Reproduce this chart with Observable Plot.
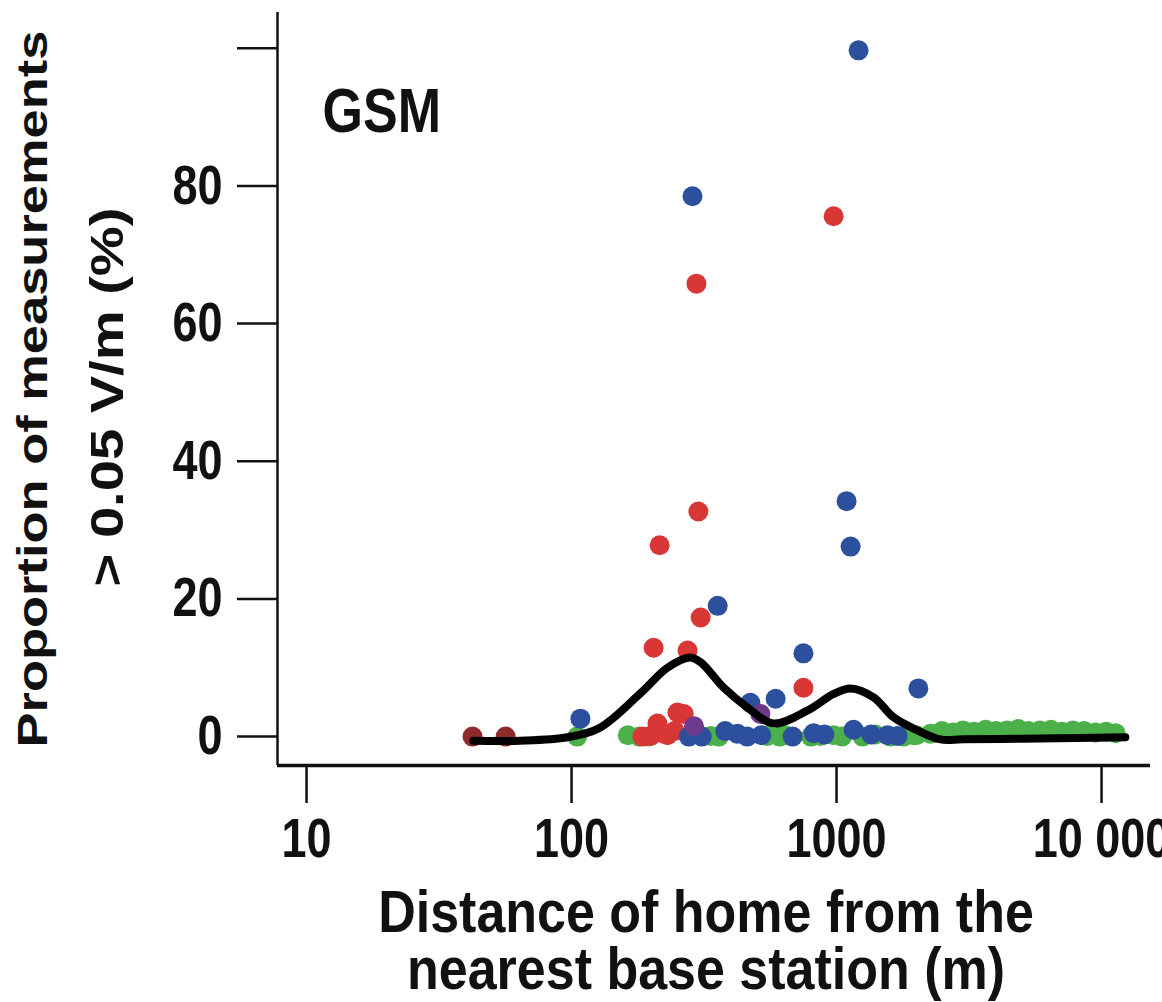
<!DOCTYPE html>
<html>
<head>
<meta charset="utf-8">
<script src="https://cdn.jsdelivr.net/npm/d3@7"></script>
<script src="https://cdn.jsdelivr.net/npm/@observablehq/plot@0.6"></script>
<style>
html, body { margin: 0; padding: 0; background: #fff; overflow: hidden; }
#wrap { width: 1162px; height: 1002px; overflow: hidden; position: relative; }
</style>
</head>
<body>
<div id="wrap"></div>
<script>
// ---- Data ----
const xTicks = [10, 100, 1000, 10000];
const xTickLabels = ["10", "100", "1000", "10 000"];
const yTicks = [0, 20, 40, 60, 80, 100];
const yTickLabels = ["0", "20", "40", "60", "80", ""];
const xDomain = [7.77, 15300];
const yDomain = [-4.2, 105.2];

const panelLabel = "GSM";
const xTitle1 = "Distance of home from the";
const xTitle2 = "nearest base station (m)";
const yTitle1 = "Proportion of measurements";
const yTitle2 = "> 0.05 V/m (%)";

const greenX = [105, 163, 180, 195, 335, 360, 549, 610, 640, 800, 871, 975, 1050, 1253, 1400, 1600, 1790, 1950, 2000, 2264, 2500, 2750, 3000, 3300, 3650, 4000, 4400, 4850, 5300, 5850, 6450, 7100, 7800, 8600, 9500, 10400, 11300];
const greenY = [0, 0.2, 0, 0, 0.1, 0, 0.1, 0, 0.2, 0, 0.1, 0.2, 0, 0, 0.3, 0, 0, 0.2, 0.2, 0.4, 0.8, 0.6, 0.9, 0.7, 1.0, 0.8, 0.9, 1.1, 0.8, 0.9, 1.0, 0.7, 0.9, 0.8, 0.6, 0.7, 0.5];

const maroonX = [42.3, 56.4];
const maroonY = [0, 0];

const redX = [975, 296, 301, 215, 307, 204, 274, 750, 265, 211, 251, 199, 230, 245, 185, 220];
const redY = [75.6, 65.8, 32.7, 27.8, 17.3, 12.9, 12.5, 7.1, 3.3, 1.9, 3.5, 0.1, 0.2, 0.8, 0, 0.5];

const blueX = [1211, 286, 1091, 1130, 356, 750, 2036, 589, 473, 108, 277, 423, 683, 1159, 1557, 310, 900, 380, 460, 520, 820, 1350, 1700];
const blueY = [99.7, 78.5, 34.2, 27.6, 19.0, 12.1, 7.0, 5.5, 4.9, 2.6, 0, 0.4, 0, 1.0, 0.2, 0, 0.3, 0.8, 0, 0.2, 0.5, 0.3, 0.1];

const purpleX = [516, 290];
const purpleY = [3.3, 1.5];

const smoothX = [42.6, 64, 96.6, 128, 182, 230, 279, 307, 375, 462, 578, 778, 975, 1130, 1380, 1641, 2023, 2466, 3000, 5000, 8000, 12300];
const smoothY = [-0.6, -0.6, -0.1, 1.3, 6.3, 10.0, 11.5, 10.8, 7.1, 4.2, 1.9, 3.8, 6.2, 7.0, 5.7, 2.8, 0.9, -0.4, -0.4, -0.3, -0.2, -0.1];

// ---- Build tables ----
const toRows = (xs, ys) => xs.map((x, i) => ({x, y: ys[i]}));
const green = toRows(greenX, greenY);
const maroon = toRows(maroonX, maroonY);
const red = toRows(redX, redY);
const blue = toRows(blueX, blueY);
const purple = toRows(purpleX, purpleY);
const smooth = toRows(smoothX, smoothY);

const R = 10;
const S = 1.22;      // vertical stretch of the reference's lettering
const S_TITLE = 1.15;

const chart = Plot.plot({
  width: 1200,
  height: 1002,
  marginLeft: 277,
  marginRight: 50,
  marginTop: 12,
  marginBottom: 237,
  style: {
    fontFamily: "'Liberation Sans', Arial, sans-serif",
    fontWeight: "bold",
    fontSize: "45px",
    color: "#111",
    background: "#fff",
    maxWidth: "none"
  },
  x: {type: "log", domain: xDomain},
  y: {domain: yDomain},
  marks: [
    Plot.dot(green, {x: "x", y: "y", r: R, fill: "#4cb04a"}),
    Plot.dot(maroon, {x: "x", y: "y", r: R, fill: "#8e2a2a"}),
    Plot.dot(red, {x: "x", y: "y", r: R, fill: "#d93636"}),
    Plot.dot(blue, {x: "x", y: "y", r: R, fill: "#2c4f9e"}),
    Plot.dot(purple, {x: "x", y: "y", r: R, fill: "#6b3a8c"}),
    Plot.line(smooth, {x: "x", y: "y", stroke: "#000", strokeWidth: 8, curve: "catmull-rom"}),
    Plot.ruleX([xDomain[0]], {stroke: "#111", strokeWidth: 2.5}),
    Plot.ruleY([yDomain[0]], {stroke: "#111", strokeWidth: 3.5}),
    Plot.axisX({
      ticks: xTicks,
      tickFormat: d => xTickLabels[xTicks.indexOf(d)],
      tickSize: 38, tickPadding: 15, strokeWidth: 2.5, label: null
    }),
    Plot.axisY({
      ticks: yTicks,
      tickFormat: d => yTickLabels[yTicks.indexOf(d)],
      tickSize: 40, tickPadding: 15, strokeWidth: 2.5, label: null
    }),
    Plot.text([panelLabel], {frameAnchor: "top-left", dx: 45, dy: 99.5, textAnchor: "start", lineAnchor: "middle", fontSize: 52, fill: "#111"}),
    Plot.text([xTitle1], {frameAnchor: "bottom", dx: -8, dy: 147, textAnchor: "middle", lineAnchor: "middle", fontSize: 52, fill: "#111"}),
    Plot.text([xTitle2], {frameAnchor: "bottom", dx: -8, dy: 204, textAnchor: "middle", lineAnchor: "middle", fontSize: 52, fill: "#111"}),
    Plot.text([yTitle1], {frameAnchor: "left", dx: -244, dy: 0, rotate: -90, textAnchor: "middle", lineAnchor: "middle", fontSize: 43, fill: "#111"}),
    Plot.text([yTitle2], {frameAnchor: "left", dx: -169, dy: 8, rotate: -90, textAnchor: "middle", lineAnchor: "middle", fontSize: 46, fill: "#111"})
  ]
});

// stretch lettering vertically (page direction) like the reference
chart.querySelectorAll("text").forEach(t => {
  let tr = t.getAttribute("transform");
  if (!tr) {
    const x = parseFloat(t.getAttribute("x"));
    const y = parseFloat(t.getAttribute("y"));
    if (isFinite(x) && isFinite(y)) {
      t.removeAttribute("x"); t.removeAttribute("y");
      tr = `translate(${x},${y})`;
    } else {
      tr = "";
    }
  }
  const content = t.textContent;
  const s = (content === xTitle1 || content === xTitle2) ? S_TITLE : S;
  const rotated = /rotate\(\s*-?90/.test(tr);
  t.setAttribute("transform", (tr + (rotated ? ` scale(${s},1)` : ` scale(1,${s})`)).trim());
});

document.getElementById("wrap").appendChild(chart);
</script>
</body>
</html>
